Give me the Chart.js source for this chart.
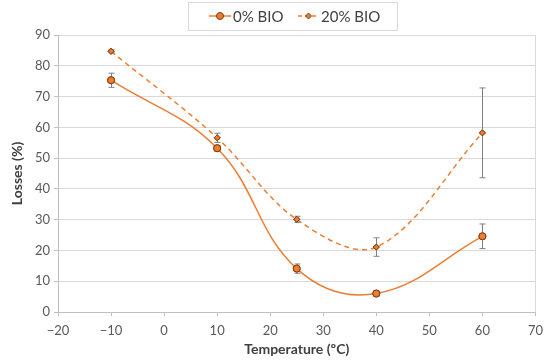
<!DOCTYPE html>
<html><head><meta charset="utf-8">
<script src="https://cdn.jsdelivr.net/npm/chart.js@4/dist/chart.umd.min.js"></script>
<style>html,body{margin:0;padding:0;background:#fff}#wrap{width:550px;height:364px}</style>
</head><body><div id="wrap"><canvas id="c" width="550" height="364"></canvas></div>
<script>
const temperatures = [-10, 10, 25, 40, 60];
const bio0 = [75.3, 53.2, 14.1, 6.0, 24.6];
const bio0Err = [2.3, 1.0, 1.5, 1.0, 4.0];
const bio20 = [84.7, 56.6, 30.1, 21.1, 58.2];
const bio20Err = [0.5, 1.5, 1.0, 3.0, 14.6];
const seriesLabels = ['0% BIO', '20% BIO'];
const xTicks = [-20, -10, 0, 10, 20, 30, 40, 50, 60, 70];

const ORANGE = '#ED7D31';
const DARK = '#843C0C';
const FONT = 'Lato, "Open Sans", sans-serif';

function pts(xs, ys){ return xs.map((x,i)=>({x:x,y:ys[i]})); }

const errorBars = {
  id:'errorBars',
  afterDatasetsDraw(chart){
    const ctx = chart.ctx, xs = chart.scales.x, ys = chart.scales.y;
    const errs = [bio0Err, bio20Err];
    ctx.save();
    ctx.strokeStyle = '#808080'; ctx.lineWidth = 1;
    chart.data.datasets.forEach((ds, di)=>{
      ds.data.forEach((p, i)=>{
        const e = errs[di][i];
        const px = Math.round(xs.getPixelForValue(p.x)) + 0.5;
        const top = ys.getPixelForValue(p.y + e), bot = ys.getPixelForValue(p.y - e);
        ctx.beginPath();
        ctx.moveTo(px, top); ctx.lineTo(px, bot);
        ctx.moveTo(px-3, top); ctx.lineTo(px+3, top);
        ctx.moveTo(px-3, bot); ctx.lineTo(px+3, bot);
        ctx.stroke();
      });
    });
    ctx.restore();
    chart.data.datasets.forEach((ds, di)=>{
      const meta = chart.getDatasetMeta(di);
      meta.data.forEach(el=>el.draw(ctx, chart.chartArea));
    });
  }
};

const customLegend = {
  id:'customLegend',
  afterDraw(chart){
    const ctx = chart.ctx;
    ctx.save();
    ctx.strokeStyle = '#d9d9d9'; ctx.lineWidth = 1;
    ctx.strokeRect(188.5, 2.5, 209, 28);
    const y = 16;
    ctx.strokeStyle = ORANGE; ctx.lineWidth = 1.5;
    ctx.beginPath(); ctx.moveTo(209, y); ctx.lineTo(231, y); ctx.stroke();
    ctx.fillStyle = ORANGE; ctx.strokeStyle = DARK; ctx.lineWidth = 1;
    ctx.beginPath(); ctx.arc(220, y, 3.5, 0, Math.PI*2); ctx.fill(); ctx.stroke();
    ctx.strokeStyle = ORANGE; ctx.lineWidth = 1.5; ctx.setLineDash([4,3]);
    ctx.beginPath(); ctx.moveTo(298, y); ctx.lineTo(319, y); ctx.stroke();
    ctx.setLineDash([]);
    ctx.fillStyle = ORANGE; ctx.strokeStyle = DARK; ctx.lineWidth = 1;
    ctx.beginPath(); ctx.moveTo(308.5, y-3); ctx.lineTo(311.5, y); ctx.lineTo(308.5, y+3); ctx.lineTo(305.5, y); ctx.closePath(); ctx.fill(); ctx.stroke();
    ctx.fillStyle = '#404040'; ctx.font = '15px ' + FONT; ctx.textBaseline = 'middle';
    ctx.fillText(chart.data.datasets[0].label, 233, y+1);
    ctx.fillText(chart.data.datasets[1].label, 321, y+1);
    ctx.restore();
  }
};

new Chart(document.getElementById('c'), {
  type:'line',
  data:{
    datasets:[
      {label:seriesLabels[0], data:pts(temperatures, bio0), borderColor:ORANGE, borderWidth:1.5,
       backgroundColor:ORANGE, pointBackgroundColor:ORANGE, pointBorderColor:DARK, pointBorderWidth:1,
       pointRadius:3.5, pointStyle:'circle', tension:0.4, fill:false},
      {label:seriesLabels[1], data:pts(temperatures, bio20), borderColor:ORANGE, borderWidth:1.5, borderDash:[5,4],
       backgroundColor:ORANGE, pointBackgroundColor:ORANGE, pointBorderColor:DARK, pointBorderWidth:1,
       pointRadius:3, pointStyle:'rectRot', tension:0.35, fill:false}
    ]
  },
  options:{
    responsive:false, animation:false,
    layout:{padding:{top:35, right:11, left:0, bottom:0}},
    plugins:{legend:{display:false}, tooltip:{enabled:false}},
    scales:{
      x:{type:'linear', min:-20, max:70,
        afterBuildTicks(s){ s.ticks = xTicks.map(v=>({value:v})); },
        afterFit(s){ s.height = 52; },
        grid:{color:c=>c.tick && c.tick.value===70 ? '#d9d9d9' : 'rgba(0,0,0,0)', tickColor:'#bfbfbf', tickLength:4, drawOnChartArea:true},
        border:{color:'#bfbfbf'},
        ticks:{color:'#595959', font:{family:FONT, size:13}, padding:7, maxRotation:0,
          callback:v=> v<0 ? '\u2212'+Math.abs(v) : String(v)},
        title:{display:true, text:'Temperature (ºC)', color:'#404040', font:{family:FONT, size:14, weight:'bold'}, padding:{top:2,bottom:6}}
      },
      y:{min:0, max:90,
        ticks:{stepSize:10, color:'#595959', font:{family:FONT, size:13}, padding:4},
        afterFit(s){ s.width = 58; },
        grid:{color:'#d9d9d9', tickColor:'#bfbfbf', tickLength:4},
        border:{color:'#bfbfbf'},
        title:{display:true, text:'Losses (%)', color:'#404040', font:{family:FONT, size:14, weight:'bold'}, padding:{top:9,bottom:4}}
      }
    }
  },
  plugins:[errorBars, customLegend]
});
</script>
</body></html>
